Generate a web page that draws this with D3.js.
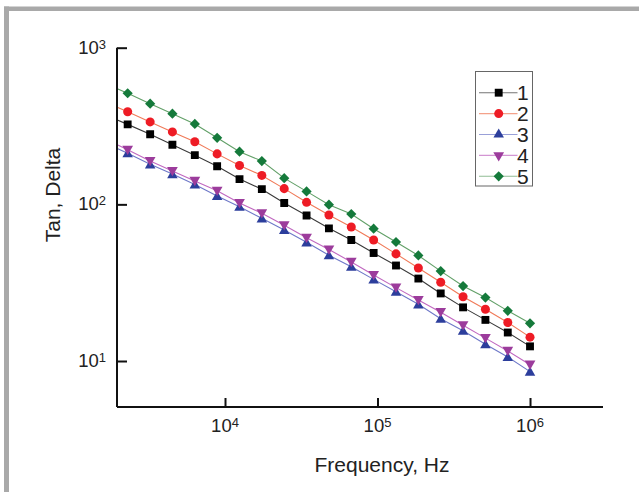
<!DOCTYPE html>
<html><head><meta charset="utf-8">
<script src="https://cdn.jsdelivr.net/npm/d3@7"></script>
<style>
html,body{margin:0;padding:0;background:#fff;}
svg{display:block;font-family:"Liberation Sans",Arial,sans-serif;}
</style></head>
<body>
<svg id="chart" width="639" height="492"></svg>
<script>
// Frequencies (Hz); the first one lies left of the plotted range (line enters from the axis)
const frequency = [1640, 2300, 3230, 4520, 6340, 8880, 12450, 17440, 24450, 34260, 48020, 67300, 94320, 132200, 185300, 259700, 363900, 510000, 714800, 1000000];
const seriesNames = ["1", "2", "3", "4", "5"];
const tan1 = [372, 324, 280, 240, 206, 175, 145, 125, 102, 84.9, 70.3, 59.2, 48.9, 40.7, 33.6, 27.0, 22.0, 18.3, 15.2, 12.4];
const tan2 = [450, 390, 336, 290, 251, 210, 177, 153, 126, 103, 85.5, 71.7, 59.2, 48.3, 39.2, 31.8, 25.7, 21.4, 17.6, 14.2];
const tan3 = [247, 212, 180, 156, 134, 113, 96.6, 81.4, 68.6, 57.2, 47.3, 40.0, 33.2, 27.7, 23.0, 18.6, 15.6, 12.8, 10.6, 8.55];
const tan4 = [262, 223, 189, 163, 141, 122, 102, 87.7, 73.5, 61.2, 51.5, 42.9, 35.4, 29.4, 24.5, 20.5, 16.9, 14.0, 11.6, 9.47];
const tan5 = [590, 512, 439, 379, 326, 266, 217, 189, 147, 121, 99.5, 86.8, 69.9, 57.5, 47.2, 37.5, 30.1, 25.4, 20.9, 17.4];
const xTicks = [1e4, 1e5, 1e6];
const yTicks = [1e1, 1e2, 1e3];
const xTitle = "Frequency, Hz";
const yTitle = "Tan, Delta";

const seriesValues = [tan1, tan2, tan3, tan4, tan5];
const lineColors = ["#3a3a3a", "#f07a58", "#6e78c8", "#c068c0", "#62a068"];
const markColors = ["#000000", "#ee1c25", "#2c3e9c", "#9c3c9c", "#157a3b"];
const markTypes = [d3.symbolSquare, d3.symbolCircle, d3.symbolTriangle, d3.symbolTriangle, d3.symbolSquare];
const markSizes = [62, 64, 48, 50, 52];
const markRot = [0, 0, 0, 180, 45];

const svg = d3.select("#chart");
// frame
svg.append("rect").attr("x", 4).attr("y", 6.5).attr("width", 640).attr("height", 4.5).attr("fill", "#a9a9a9");
svg.append("rect").attr("x", 4).attr("y", 6.5).attr("width", 5).attr("height", 490).attr("fill", "#a9a9a9");

const L = 117, R = 603, T = 47.7, B = 407;
const x = d3.scaleLog().domain([1958, 3.01e6]).range([L, R]);
const y = d3.scaleLog().domain([5.086, 1000]).range([B, T]);

svg.append("defs").append("clipPath").attr("id", "clip")
  .append("rect").attr("x", L).attr("y", T - 20).attr("width", R - L).attr("height", B - T + 20);

const plot = svg.append("g").attr("clip-path", "url(#clip)");
const line = d3.line().x(d => x(d[0])).y(d => y(d[1]));

seriesValues.forEach((vals, i) => {
  const pts = frequency.map((f, j) => [f, vals[j]]);
  plot.append("path").datum(pts).attr("d", line)
    .attr("fill", "none").attr("stroke", lineColors[i]).attr("stroke-width", 1.1);
});
seriesValues.forEach((vals, i) => {
  const pts = frequency.map((f, j) => [f, vals[j]]).filter(d => d[0] >= x.domain()[0]);
  plot.selectAll(null).data(pts).enter().append("path")
    .attr("d", d3.symbol().type(markTypes[i]).size(markSizes[i]))
    .attr("transform", d => `translate(${x(d[0])},${y(d[1]) + (i===2 ? 1 : i===3 ? -1 : 0)}) rotate(${markRot[i]})`)
    .attr("fill", markColors[i]);
});

// axes
const xAxis = d3.axisBottom(x).tickValues(xTicks).tickSize(-9).tickFormat("");
const gx = svg.append("g").attr("transform", `translate(0,${B})`).call(xAxis);
const yAxis = d3.axisLeft(y).tickValues(yTicks).tickSize(-10).tickFormat("");
const gy = svg.append("g").attr("transform", `translate(${L},0)`).call(yAxis);
[gx, gy].forEach(g => {
  g.select(".domain").attr("stroke", "#111").attr("stroke-width", 2);
  g.selectAll(".tick line").attr("stroke", "#111").attr("stroke-width", 2);
});
gx.select(".domain").attr("d", `M${L},0H${R}`);
gy.select(".domain").attr("d", `M0,${B}V${T}`);

// tick labels
xTicks.forEach(t => {
  const tx = svg.append("text").attr("x", x(t)).attr("y", 431.7)
    .attr("text-anchor", "middle").attr("font-size", 18.5).attr("fill", "#222");
  tx.append("tspan").text("10");
  tx.append("tspan").attr("font-size", 13).attr("dy", -5).text(Math.round(Math.log10(t)));
});
yTicks.forEach(t => {
  const ty = svg.append("text").attr("x", 106).attr("y", y(t) + 6)
    .attr("text-anchor", "end").attr("font-size", 18.5).attr("fill", "#222");
  ty.append("tspan").text("10");
  ty.append("tspan").attr("font-size", 13).attr("dy", -5).text(Math.round(Math.log10(t)));
});

// titles
svg.append("text").attr("x", 382).attr("y", 471.7).attr("text-anchor", "middle")
  .attr("font-size", 21).attr("fill", "#222").text(xTitle);
svg.append("text").attr("transform", "translate(60,195) rotate(-90)").attr("text-anchor", "middle")
  .attr("font-size", 21).attr("fill", "#222").text(yTitle);

// legend
const lg = svg.append("g");
lg.append("rect").attr("x", 475.5).attr("y", 71.5).attr("width", 57).attr("height", 114.5)
  .attr("fill", "#fff").attr("stroke", "#666").attr("stroke-width", 1);
seriesNames.forEach((name, i) => {
  const ly = 92.7 + i * 20.9;
  lg.append("line").attr("x1", 479).attr("x2", 517.5).attr("y1", ly).attr("y2", ly)
    .attr("stroke", lineColors[i]).attr("stroke-width", 1.1).attr("stroke-opacity", 0.7);
  lg.append("path").attr("d", d3.symbol().type(markTypes[i]).size(markSizes[i]))
    .attr("transform", `translate(498.7,${ly}) rotate(${markRot[i]})`).attr("fill", markColors[i]);
  lg.append("text").attr("x", 517).attr("y", ly + 7.5).attr("font-size", 21).attr("fill", "#222").text(name);
});
</script>
</body></html>
